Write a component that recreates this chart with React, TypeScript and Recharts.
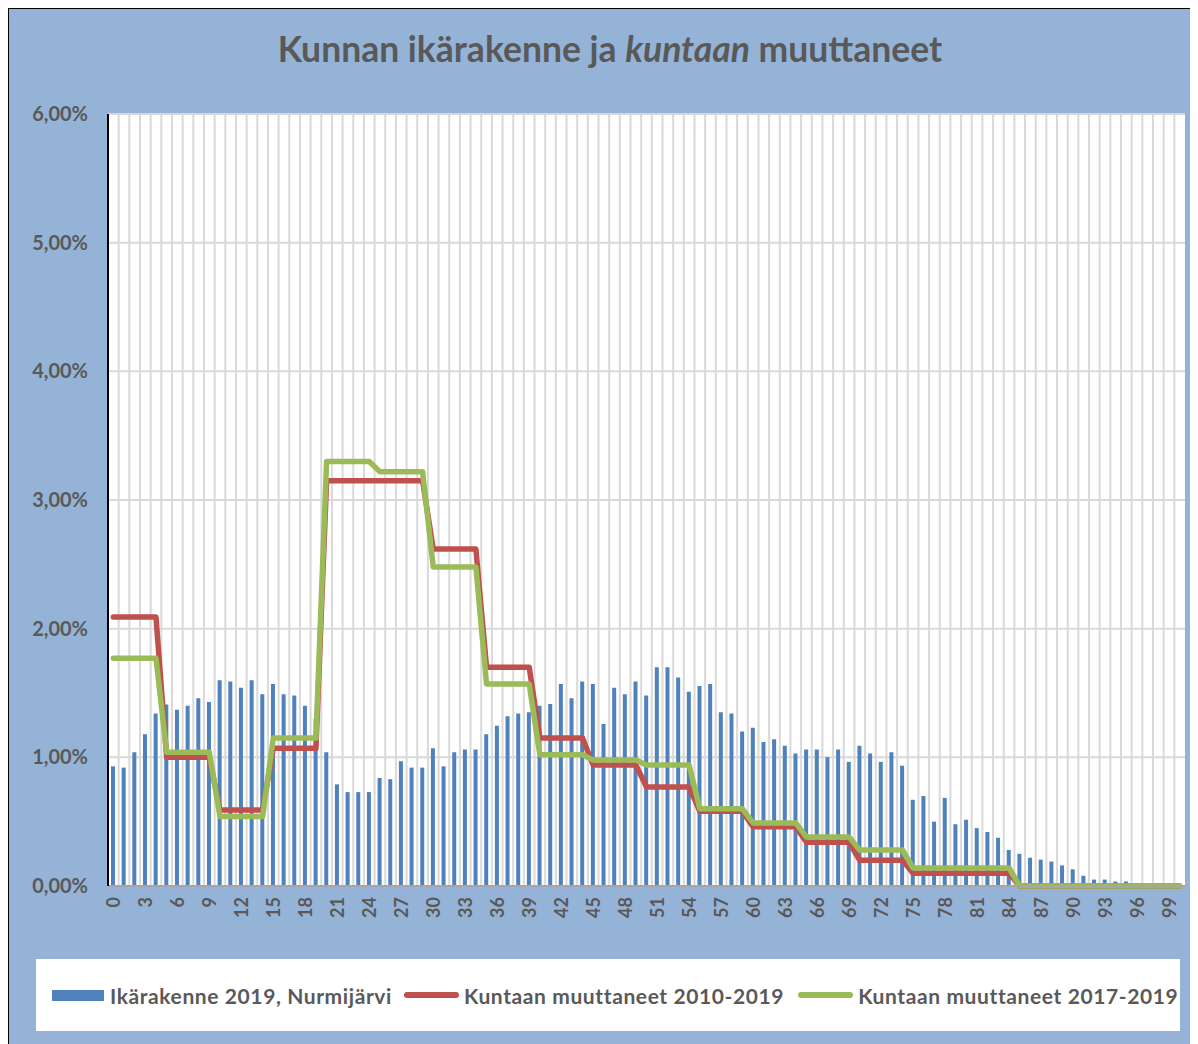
import React from 'react';
import { ComposedChart, Bar, Line, XAxis, YAxis, CartesianGrid } from 'recharts';

// ages 0..100
const ages: number[] = Array.from({ length: 101 }, (_, i) => i);

// Ikärakenne 2019, Nurmijärvi (% of population per age)
const ikarakenne2019: number[] = [
  0.93, 0.92, 1.04, 1.18, 1.34, 1.41, 1.37, 1.4, 1.46, 1.43,
  1.6, 1.59, 1.54, 1.6, 1.49, 1.57, 1.49, 1.48, 1.4, 1.3,
  1.04, 0.79, 0.73, 0.73, 0.73, 0.84, 0.83, 0.97, 0.92, 0.92,
  1.07, 0.93, 1.04, 1.06, 1.06, 1.18, 1.245, 1.32, 1.34, 1.35,
  1.4, 1.415, 1.57, 1.46, 1.59, 1.57, 1.26, 1.54, 1.49, 1.59,
  1.48, 1.7, 1.7, 1.62, 1.51, 1.555, 1.57, 1.35, 1.34, 1.2,
  1.23, 1.12, 1.14, 1.09, 1.03, 1.06, 1.06, 1.0, 1.06, 0.965,
  1.09, 1.03, 0.965, 1.04, 0.935, 0.67, 0.7, 0.5, 0.685, 0.48,
  0.515, 0.45, 0.42, 0.375, 0.28, 0.25, 0.22, 0.205, 0.19, 0.16,
  0.13, 0.08, 0.05, 0.05, 0.035, 0.035, 0.01, 0, 0, 0,
  0,
];

// Kuntaan muuttaneet 2010-2019
const muuttaneet2010: number[] = [
  2.09, 2.09, 2.09, 2.09, 2.09, 1.0, 1.0, 1.0, 1.0, 1.0,
  0.59, 0.59, 0.59, 0.59, 0.59, 1.07, 1.07, 1.07, 1.07, 1.07,
  3.15, 3.15, 3.15, 3.15, 3.15, 3.15, 3.15, 3.15, 3.15, 3.15,
  2.62, 2.62, 2.62, 2.62, 2.62, 1.7, 1.7, 1.7, 1.7, 1.7,
  1.15, 1.15, 1.15, 1.15, 1.15, 0.94, 0.94, 0.94, 0.94, 0.94,
  0.77, 0.77, 0.77, 0.77, 0.77, 0.58, 0.58, 0.58, 0.58, 0.58,
  0.46, 0.46, 0.46, 0.46, 0.46, 0.34, 0.34, 0.34, 0.34, 0.34,
  0.2, 0.2, 0.2, 0.2, 0.2, 0.1, 0.1, 0.1, 0.1, 0.1,
  0.1, 0.1, 0.1, 0.1, 0.1, 0, 0, 0, 0, 0,
  0, 0, 0, 0, 0, 0, 0, 0, 0, 0,
  0,
];

// Kuntaan muuttaneet 2017-2019
const muuttaneet2017: number[] = [
  1.77, 1.77, 1.77, 1.77, 1.77, 1.04, 1.04, 1.04, 1.04, 1.04,
  0.54, 0.54, 0.54, 0.54, 0.54, 1.15, 1.15, 1.15, 1.15, 1.15,
  3.3, 3.3, 3.3, 3.3, 3.3, 3.22, 3.22, 3.22, 3.22, 3.22,
  2.48, 2.48, 2.48, 2.48, 2.48, 1.57, 1.57, 1.57, 1.57, 1.57,
  1.02, 1.02, 1.02, 1.02, 1.02, 0.98, 0.98, 0.98, 0.98, 0.98,
  0.94, 0.94, 0.94, 0.94, 0.94, 0.6, 0.6, 0.6, 0.6, 0.6,
  0.49, 0.49, 0.49, 0.49, 0.49, 0.38, 0.38, 0.38, 0.38, 0.38,
  0.28, 0.28, 0.28, 0.28, 0.28, 0.14, 0.14, 0.14, 0.14, 0.14,
  0.14, 0.14, 0.14, 0.14, 0.14, 0, 0, 0, 0, 0,
  0, 0, 0, 0, 0, 0, 0, 0, 0, 0,
  0,
];

const yTicks: number[] = [0, 1, 2, 3, 4, 5, 6];

const data = ages.map((age, i) => ({
  age,
  pop: ikarakenne2019[i],
  m2010: muuttaneet2010[i],
  m2017: muuttaneet2017[i],
}));

const FONT = 'Lato, "Open Sans", sans-serif';
const TEXT = '#595959';
const BLUE = '#4F81BD';
const RED = '#C0504D';
const GREEN = '#9BBB59';

const fmtPct = (v: number) => v.toFixed(2).replace('.', ',') + '%';

const AgeTick = (props: any) => {
  const { x, y, payload } = props;
  return (
    <text
      x={x}
      y={y}
      transform={`rotate(-90 ${x} ${y})`}
      textAnchor="end"
      dominantBaseline="central"
      fill={TEXT}
      fontSize={18}
      fontWeight={700}
      fontFamily={FONT}
    >
      {payload.value}
    </text>
  );
};

// grid lines between the age categories
const betweenCategories = ({ offset }: any) => {
  const step = offset.width / ages.length;
  return ages.slice(1).map((_, i) => offset.left + (i + 1) * step);
};

const App = () => {
  return (
    <div
      style={{
        position: 'relative',
        width: 1190,
        height: 1040,
        boxSizing: 'border-box',
        border: '1px solid #000',
        background: '#95B3D7',
        fontFamily: FONT,
      }}
    >
      <style>{'body{overflow:hidden}'}</style>
      <ComposedChart
        width={1188}
        height={1038}
        data={data}
        margin={{ top: 105, right: 12, bottom: 111, left: 0 }}
        barCategoryGap={0}
      >
        <CartesianGrid
          fill="#FFFFFF"
          stroke="#D9D9D9"
          strokeWidth={2}
          verticalCoordinatesGenerator={betweenCategories}
        />
        <XAxis
          dataKey="age"
          height={50}
          interval={2}
          axisLine={{ stroke: '#A6A6A6', strokeWidth: 2 }}
          tickLine={false}
          tickMargin={5}
          tick={<AgeTick />}
        />
        <XAxis
          xAxisId="top"
          dataKey="age"
          orientation="top"
          height={0}
          tick={false}
          tickLine={false}
          axisLine={{ stroke: '#000', strokeWidth: 2 }}
        />
        <YAxis
          width={99}
          domain={[0, 6]}
          ticks={yTicks}
          tickFormatter={fmtPct}
          axisLine={{ stroke: '#000', strokeWidth: 2 }}
          tickLine={false}
          tickMargin={14}
          tick={{ fill: TEXT, fontSize: 20, fontWeight: 700, fontFamily: FONT }}
        />
        <YAxis
          yAxisId="right"
          orientation="right"
          width={0}
          domain={[0, 6]}
          tick={false}
          tickLine={false}
          axisLine={{ stroke: '#000', strokeWidth: 2 }}
        />
        <Bar dataKey="pop" fill={BLUE} barSize={4} isAnimationActive={false} />
        <Line
          dataKey="m2010"
          type="linear"
          stroke={RED}
          strokeWidth={5.5}
          strokeLinejoin="round"
          strokeLinecap="round"
          dot={false}
          activeDot={false}
          isAnimationActive={false}
        />
        <Line
          dataKey="m2017"
          type="linear"
          stroke={GREEN}
          strokeWidth={5.5}
          strokeLinejoin="round"
          strokeLinecap="round"
          dot={false}
          activeDot={false}
          isAnimationActive={false}
        />
      </ComposedChart>

      <div
        style={{
          position: 'absolute',
          left: 0,
          top: 19,
          width: 1188,
          paddingLeft: 14,
          boxSizing: 'border-box',
          textAlign: 'center',
          fontSize: 35.5,
          fontWeight: 700,
          color: TEXT,
          lineHeight: 1.2,
        }}
      >
        Kunnan ikärakenne ja <i>kuntaan</i> muuttaneet
      </div>

      <div
        style={{
          position: 'absolute',
          left: 27,
          top: 950,
          width: 1144,
          height: 72,
          background: '#FFFFFF',
          display: 'flex',
          alignItems: 'center',
          paddingLeft: 16,
          boxSizing: 'border-box',
          fontSize: 21,
          letterSpacing: 0.6,
          fontWeight: 700,
          color: TEXT,
        }}
      >
        <span style={{ width: 52, height: 11, background: BLUE, marginRight: 6 }} />
        <span style={{ marginRight: 12 }}>Ikärakenne 2019, Nurmijärvi</span>
        <span style={{ width: 55, height: 6, borderRadius: 3, background: RED, marginRight: 5 }} />
        <span style={{ marginRight: 14 }}>Kuntaan muuttaneet 2010-2019</span>
        <span style={{ width: 55, height: 6, borderRadius: 3, background: GREEN, marginRight: 5 }} />
        <span>Kuntaan muuttaneet 2017-2019</span>
      </div>
    </div>
  );
};

export default App;
